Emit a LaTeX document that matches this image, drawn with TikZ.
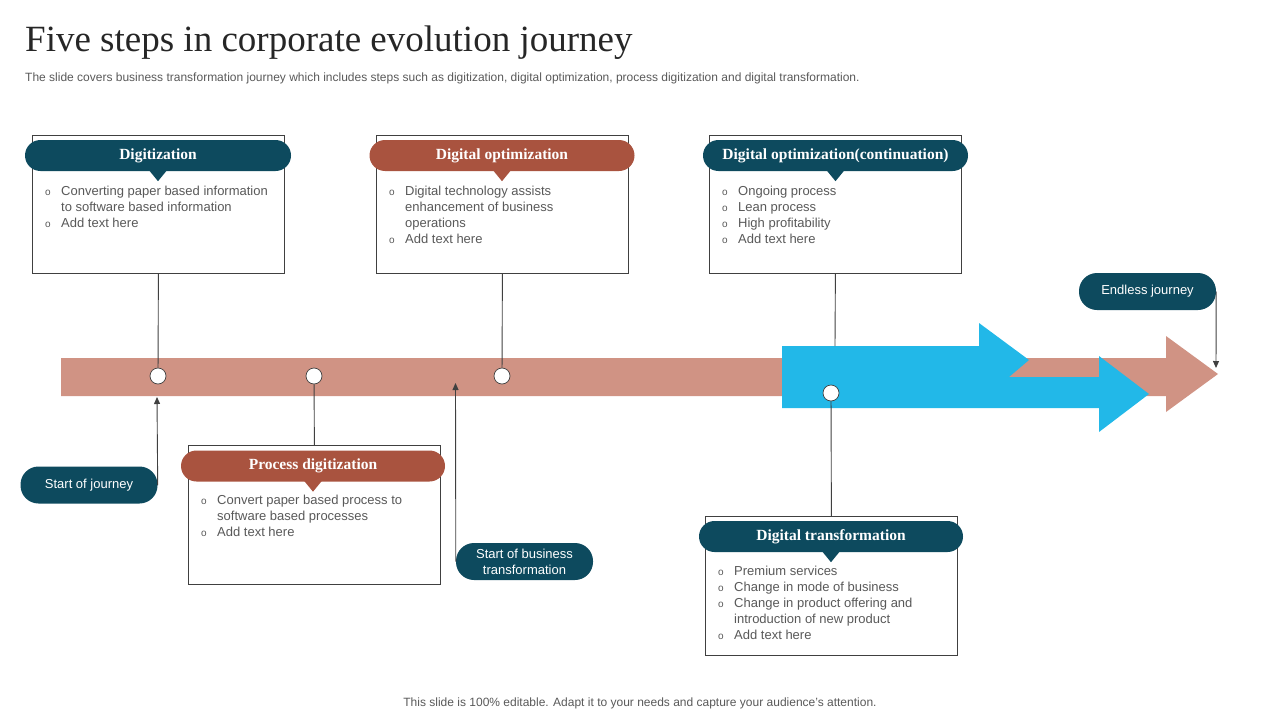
\documentclass[tikz,border=0pt]{standalone}
\usepackage{fontspec}
\setmainfont{Liberation Sans}
\newfontfamily\seriffont{Liberation Serif}
\usetikzlibrary{arrows.meta,calc}
\definecolor{myteal}{HTML}{0D4A5E}
\definecolor{mybrown}{HTML}{A9533F}
\definecolor{mysalmon}{HTML}{D09384}
\definecolor{myblue}{HTML}{22B8E8}
\definecolor{txtgray}{HTML}{595959}
\definecolor{titlegray}{HTML}{262626}
\definecolor{linegray}{HTML}{404040}
\newcommand\bul{\makebox[16pt][l]{\fontsize{10}{10}\selectfont o}}
\newcommand\ind{\hspace*{16pt}}
\begin{document}
\begin{tikzpicture}[x=1pt,y=-1pt,
  hdr/.style={rounded corners=15.5pt, minimum height=31pt, text=white, font=\seriffont\bfseries\fontsize{15.5}{18}\selectfont, inner sep=0},
  boxnode/.style={draw=linegray, line width=0.8pt, fill=white, minimum width=252pt, minimum height=138pt, inner sep=0, anchor=north west},
  body/.style={anchor=north west, align=left, text=txtgray, font=\fontsize{13}{16}\selectfont, inner sep=0},
  dot/.style={circle, draw=linegray, fill=white, line width=0.7pt, minimum size=16pt, inner sep=0},
  conn/.style={draw=linegray, line width=0.9pt},
  arr/.style={conn, -{Triangle[length=7pt,width=6pt]}},
  pill/.style={fill=myteal, rounded corners=18pt, minimum width=137pt, minimum height=37pt, text=white, font=\fontsize{13}{16}\selectfont, align=center, inner sep=0}
]
\useasboundingbox (0,0) rectangle (1280,720);

% titles
\node[anchor=base west, font=\seriffont\fontsize{37}{40}\selectfont, text=titlegray, inner sep=0] (title) at (25,51) {Five steps in corporate evolution journey};
\node[anchor=base west, font=\fontsize{12}{14}\selectfont, text=txtgray, inner sep=0] (sub) at (25,81) {The slide covers business transformation journey which includes steps such as digitization, digital optimization, process digitization and digital transformation.};
\node[anchor=base, font=\fontsize{12}{14}\selectfont, text=txtgray, inner sep=0] (foot) at (640,706) {This slide is 100\% editable. Adapt it to your needs and capture your audience's attention.};

% main arrows
\fill[mysalmon] (61,358) -- (1166,358) -- (1166,336) -- (1218,374) -- (1166,412) -- (1166,396) -- (61,396) -- cycle;
\fill[myblue] (782,346) -- (979,346) -- (979,323) -- (1029,360) -- (1009,377) -- (1099,377) -- (1099,356) -- (1149,394) -- (1099,432) -- (1099,408) -- (782,408) -- cycle;

% boxes
\node[boxnode] (b1) at (32,135) {};
\node[boxnode] (b2) at (376,135) {};
\node[boxnode] (b3) at (709,135) {};
\node[boxnode, minimum height=139pt] (b4) at (188,445) {};
\node[boxnode, minimum height=139pt] (b5) at (705,516) {};

% headers
\node[hdr, fill=myteal, minimum width=266pt] (h1) at (158,155.5) {Digitization};
\node[hdr, fill=mybrown, minimum width=265pt] (h2) at (502,155.5) {Digital optimization};
\node[hdr, fill=myteal, minimum width=265pt] (h3) at (835.5,155.5) {Digital optimization(continuation)};
\node[hdr, fill=mybrown, minimum width=264pt] (h4) at (313,466) {Process digitization};
\node[hdr, fill=myteal, minimum width=264pt] (h5) at (831,536.5) {Digital transformation};
\foreach \h/\c in {h1/myteal,h2/mybrown,h3/myteal,h4/mybrown,h5/myteal}{
  \fill[\c] ($(\h.south)+(-9,-1)$) -- ($(\h.south)+(9,-1)$) -- ($(\h.south)+(0,10)$) -- cycle;
}

% body texts
\node[body] (t1) at (45,186) {\bul Converting paper based information\\ \ind to software based information\\ \bul Add text here};
\node[body] (t2) at (389,186) {\bul Digital technology assists\\ \ind enhancement of business\\ \ind operations\\ \bul Add text here};
\node[body] (t3) at (722,186) {\bul Ongoing process\\ \bul Lean process\\ \bul High profitability\\ \bul Add text here};
\node[body] (t4) at (201,495) {\bul Convert paper based process to\\ \ind software based processes\\ \bul Add text here};
\node[body] (t5) at (718,566) {\bul Premium services\\ \bul Change in mode of business\\ \bul Change in product offering and\\ \ind introduction of new product\\ \bul Add text here};

% connectors
\node[dot] (c1) at (158,376) {};
\node[dot] (c2) at (314,376) {};
\node[dot] (c3) at (502,376) {};
\node[dot] (c5) at (831,393) {};
\coordinate (top3) at (835,346);
\draw[conn] (b1.south) -- (c1);
\draw[conn] (b2.south) -- (c3);
\draw[conn] (b3.south) -- (top3);
\draw[conn] (c2) -- (b4.north);
\draw[conn] (c5) -- (b5.north);

% pills
\node[pill] (p1) at (89,485) {Start of journey};
\node[pill] (p2) at (524.5,561.5) {Start of business\\transformation};
\node[pill] (p3) at (1147.5,291.5) {Endless journey};
\coordinate (a1) at (157,397);
\coordinate (a2) at (455.5,383);
\coordinate (a3) at (1216,368);
\draw[arr] (p1.east) -- (a1);
\draw[arr] (p2.west) -- (a2);
\draw[arr] (p3.east) -- (a3);
\end{tikzpicture}
\end{document}
